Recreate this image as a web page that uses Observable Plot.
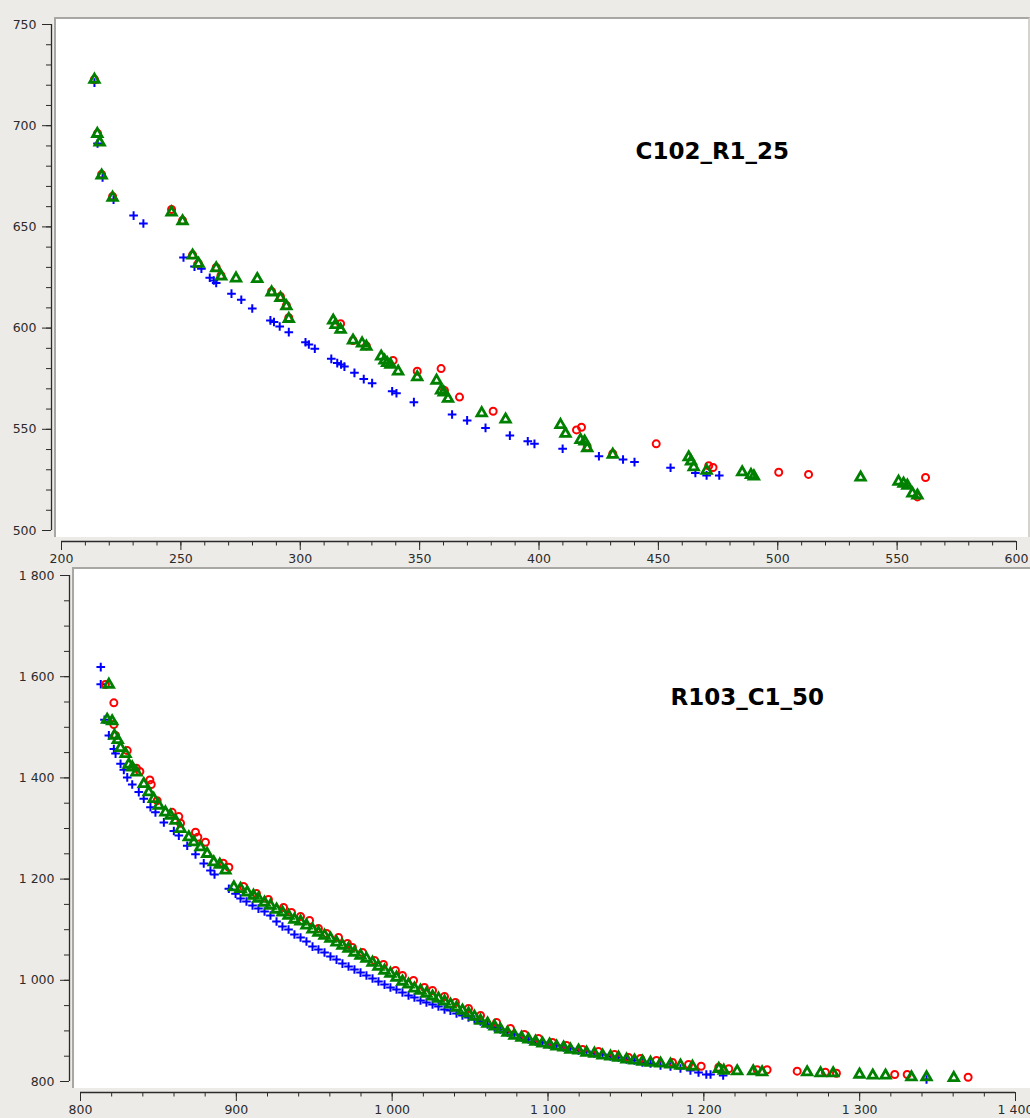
<!DOCTYPE html>
<html>
<head>
<meta charset="utf-8">
<script src="https://cdn.jsdelivr.net/npm/d3@7"></script>
<script src="https://cdn.jsdelivr.net/npm/@observablehq/plot@0.6"></script>
<style>
  html, body { margin: 0; padding: 0; background: #edebe7; }
  #page { position: relative; width: 1030px; height: 1118px; overflow: hidden; background: #edebe7; font-family: "DejaVu Sans", sans-serif; }
  .panel { position: absolute; background: #ffffff; box-sizing: border-box; border-top: 2px solid #a9a7a3; border-left: 2px solid #a9a7a3; border-right: 2px solid #d6d3ce; }
  .chart { position: absolute; left: 0; }
</style>
</head>
<body>
<div id="page">
  <div class="panel" style="left:54px; top:17px; width:976px; height:520px;"></div>
  <div class="panel" style="left:72px; top:567px; width:960px; height:521px; border-right:none;"></div>
  <div class="chart" id="top" style="top:0px;"></div>
  <div class="chart" id="bottom" style="top:566px;"></div>
</div>
<script>
// ---------- Panel 1: C102_R1_25 ----------
const title1 = "C102_R1_25";
const xTicks1 = [200, 250, 300, 350, 400, 450, 500, 550, 600];
const yTicks1 = [500, 550, 600, 650, 700, 750];

const blue1X = [213.8,215.1,217.2,221.8,230.2,234.3,251.1,255.7,258.6,262.1,263.8,264.8,271.2,275.3,279.9,287.5,289,291.4,295.2,302.2,303.6,306.1,313,315.5,317.1,318.5,322.7,326.6,330.1,338.5,340.3,347.6,363.6,369.9,377.6,387.8,395.3,398.1,409.9,425.1,435.2,440,455.1,465.5,470.2,475.5];
const blue1Y = [721.3,691.2,674.4,663.5,655.6,651.7,634.9,630.4,629.3,624.9,623.5,622.3,617,614,609.7,603.8,603,600.8,598,593,591.9,589.8,584.8,582.7,582,581,577.9,574.8,572.8,568.8,567.8,563.4,557.3,554.4,550.7,546.9,544.1,542.8,540.4,536.7,535.1,533.8,531,528.4,527.2,527.2];

const red1X = [213.8,215.1,216.8,221.4,246.1,250.7,254.9,257.3,264.8,266.8,288,291.7,294.2,295.2,316.9,322.1,327.7,338.9,349,359,360.4,366.7,380.8,415.7,417.8,420.2,430.9,449.1,471.1,472.9,500.4,512.9,561.9,558.5];
const red1Y = [722.8,696.2,675.9,665,658.6,653.2,636.2,631.9,630,626,618.1,615.6,611.2,605.1,602.2,593.9,591.2,584,578.7,580,569.2,565.9,558.9,549.7,551,541.2,537.9,542.8,532,531.1,528.8,527.7,526.2,516.6];

const green1X = [213.8,215,216,216.8,221.4,246.1,250.7,254.9,257.4,264.8,266.9,273.1,282,288,291.7,294.2,295.2,313.8,314.8,316.9,322.1,325.9,327.7,333.9,335.3,336.4,337.8,341,349,357.1,359,360.1,361.9,376,386,409,411.1,417.4,419.1,420.2,430.9,462.7,463.7,464.8,470.2,485.1,488.8,490,534.7,550.6,552.7,554.3,556.4,558.5];
const green1Y = [722.8,696,691.7,675.4,664.5,657.2,652.8,635.9,631.8,629.6,625.5,624.6,624.3,617.7,614.9,610.8,604.6,603.8,601.6,599.2,593.9,592.5,590.9,586,584,582.8,582,578.6,575.8,574.1,569.2,568.3,565.1,558,554.9,552.2,547.8,544.8,544,540.7,537.5,536.2,534.2,531.3,529.6,528.8,527.5,526.8,526.2,524.2,523.2,522.2,518.3,517.3];

// ---------- Panel 2: R103_C1_50 ----------
const title2 = "R103_C1_50";
const xTicks2 = [800, 900, 1000, 1100, 1200, 1300, 1400];
const yTicks2 = [800, 1000, 1200, 1400, 1600, 1800];

const blue2X = [813,813,815.4,818.2,821.4,822.5,825.7,827.8,830,833.2,837.4,840.6,844.9,848.1,853.5,859.9,863.1,868.5,873.8,879.1,883.4,886,895.2,899.5,
  902.7,906.5,910.4,914.2,918.1,921.9,925.8,929.6,933.5,937.3,941.2,945,948.9,952.7,956.6,960.4,964.3,968.1,972,975.8,979.7,983.5,987.4,991.2,995.1,998.9,1002.8,1006.6,1010.5,1014.3,1018.2,1022,1025.9,1029.7,1033.6,1037.4,1041.3,1045.1,1049,1052.8,1056.7,1061.2,1065.7,1069.5,1074,1078.5,1083,1087.5,1092,1096.5,1101,1105.5,1110,1114.4,1119.6,1124.7,1129.8,1135,1140.1,1145.2,1150.4,1155.5,1160.6,1165.8,1172.2,1178.6,1185,1191.4,1196.6,
  1201.6,1204.3,1212.4,1342.9];
const blue2Y = [1619,1585,1515,1484,1457,1448,1428,1416,1401,1387,1372,1359,1342,1332,1312,1295,1286,1266,1249,1231,1217,1209,1181,1171,
  1161.6,1155.7,1147.8,1141.8,1135.9,1128,1116.2,1106.3,1100.4,1090.5,1084.5,1076.6,1066.7,1060.8,1054.9,1047,1041,1033.1,1027.2,1021.3,1015.3,1009.4,1003.5,997.6,991.6,985.7,981.8,975.8,969.9,966,960.1,956.1,952.2,948.2,942.3,940.2,934.3,930.4,926.4,922.5,918.6,912.6,906.7,902.8,896.8,892.9,886.9,883,879,877.1,873.1,871.1,867.2,865.2,861.3,859.3,855.3,853.4,849.4,847.4,843.5,841.5,837.5,835.6,831.6,829.6,825.7,821.7,817.8,
  813.8,813.8,811.9,804];

const red2X = [816,821.4,821.4,822.5,830,835.9,838.1,844.5,845.4,849.2,858.8,863.1,864.2,873.8,875.3,880.2,891.6,895.2,
  904.6,912.9,920.6,930.3,935.4,941.2,947,952.7,957.9,965.6,971.3,974.5,981,988.7,994.4,1002.1,1006.6,1013.7,1020.7,1025.9,1033.6,1040.6,1049,1056.7,1067,1075.9,1084.9,1093.9,1102.9,1111.9,1122.2,1132.4,1142.7,1151.7,1159.4,1169.6,1179.9,1190.2,
  1198.3,1209.6,1216,1234.2,1240.6,1259.9,1278,1285.1,1322.5,1330.5,1369.6];
const red2Y = [1584.5,1548.3,1505.4,1483.7,1454,1419,1412.6,1396,1387,1355,1332,1323.6,1310.4,1292.6,1282.7,1272.9,1231.4,1223.5,
  1185.3,1171.5,1159.6,1143.8,1133.9,1126,1118.1,1102.3,1092.4,1084.5,1072.7,1064.8,1054.9,1039.1,1031.2,1019.3,1009.5,999.6,985.7,979.8,968,956.1,944.2,930.4,916.6,904.7,892.9,885,877.1,871.1,863.2,859.3,853.4,847.4,845.4,841.5,837.5,833.6,
  830.2,828.3,825.1,823.2,823.2,820.4,818.4,816.4,813.8,813.8,808.5];

const green2X = [818.2,817.1,820.3,821.8,823.9,825.7,828.9,831,833.2,835.9,840.6,843.8,847,850.2,854.5,857.8,861,864.2,869.5,872.7,877,881.3,885.5,889.4,893,898.4,902.7,907,
  911,914.2,918.1,921.9,925.8,929.6,933.5,937.3,941.2,945,948.9,952.7,956.6,960.4,964.3,968.1,972,975.8,979.7,983.5,987.4,991.2,995.1,998.9,1002.8,1006.6,1010.5,1014.3,1018.2,1022,1025.9,1029.7,1033.6,1037.4,1041.3,1045.1,1049,1052.8,1056.7,1061.2,1065.7,1069.5,1074,1078.5,1083,1087.5,1092,1096.5,1101,1105.5,1110,1114.4,1119.6,1124.7,1129.8,1135,1140.1,1145.2,1150.4,1155.5,1160.6,1165.8,1172.2,1178.6,1185,1192.7,
  1209.6,1212.8,1221.4,1231.7,1237.4,1266.3,1274.9,1283,1299.9,1308.4,1316.6,1333.2,1342.9,1360.4];
const green2Y = [1584.5,1515,1512,1483.7,1475,1459.4,1447.5,1426.4,1421,1411,1388,1371.7,1358.6,1345.4,1332,1325.6,1315.7,1299.3,1282.7,1272.9,1263,1250,1233.3,1228.8,1217,1184,1180.8,1174,
  1167.5,1161.6,1153.7,1147.8,1139.9,1134,1128,1120.1,1116.2,1108.3,1100.4,1094.4,1088.5,1082.6,1074.7,1068.7,1062.8,1054.9,1049,1043,1035.1,1027.2,1019.3,1013.4,1005.5,997.6,991.7,983.8,979.8,973.9,968,964,958.1,952.2,946.2,940.3,934.4,928.4,920.5,914.6,908.7,902.8,896.8,890.9,886.9,883,879,875.1,873.1,869.2,867.2,863.2,861.3,857.3,855.3,851.4,849.4,847.4,843.5,841.5,839.5,837.5,835.6,833.6,831.6,829.6,
  825.1,821.7,820.4,820.4,818.4,818.4,816.4,816.4,813.8,811.9,811.9,808.5,808.5,807.3];

const zip = (xs, ys) => xs.map((x, i) => ({x, y: ys[i]}));
const fmt = d => d >= 1000 ? `${Math.floor(d / 1000)} ${String(d % 1000).padStart(3, "0")}` : `${d}`;
const FONT = "DejaVu Sans";
const INK = "#2b2b2b";

function makePanel(cfg) {
  const {width, height, mL, mR, mT, mB, iL, iR, iB, xDom, yDom, xTicks, yTicks, xMinor, yMinor, blue, red, green, title, tdx, tdy} = cfg;
  return Plot.plot({
    width, height,
    marginLeft: mL, marginRight: mR, marginTop: mT, marginBottom: mB,
    style: {background: "transparent", fontFamily: FONT, fontSize: "12.5px", color: INK, overflow: "visible"},
    x: {domain: xDom, insetLeft: iL, insetRight: iR, label: null},
    y: {domain: yDom, insetBottom: iB, insetTop: 0, label: null},
    marks: [
      Plot.axisX({ticks: xMinor, tickSize: 4.5, text: null, stroke: INK, label: null}),
      Plot.axisX({ticks: xTicks, tickSize: 9, tickPadding: 4, tickFormat: fmt, stroke: INK, fill: INK, fontSize: 12.5, label: null}),
      Plot.axisY({ticks: yMinor, tickSize: 5, text: null, stroke: INK, label: null}),
      Plot.axisY({ticks: yTicks, tickSize: 9, tickPadding: 6, tickFormat: fmt, stroke: INK, fill: INK, fontSize: 12.5, label: null}),
      Plot.ruleX([xDom[0]], {y1: yDom[0], y2: yDom[1], dx: -iL, stroke: INK, strokeWidth: 1.3}),
      Plot.ruleY([yDom[0]], {x1: xDom[0], x2: xDom[1], dy: iB, stroke: INK, strokeWidth: 1.3}),
      Plot.dot(blue, {x: "x", y: "y", symbol: "plus", r: 2.9, stroke: "#0000ff", strokeWidth: 2}),
      Plot.dot(red, {x: "x", y: "y", symbol: "circle", r: 3.5, stroke: "#ff0000", strokeWidth: 2, fill: "none"}),
      Plot.dot(green, {x: "x", y: "y", symbol: "triangle", r: 3.5, stroke: "#008000", strokeWidth: 2.8, fill: "none"}),
      Plot.text([title], {frameAnchor: "top-left", dx: tdx, dy: tdy, text: d => d, textAnchor: "start", lineAnchor: "middle", fontSize: 23, fontWeight: "bold", fill: "#000000"})
    ]
  });
}

document.getElementById("top").appendChild(makePanel({
  width: 1030, height: 566, mL: 51, mR: 2, mT: 24, mB: 25, iL: 10, iR: 12, iB: 11,
  xDom: [200, 600], yDom: [500, 750],
  xTicks: xTicks1, yTicks: yTicks1,
  xMinor: d3.range(200, 601, 10), yMinor: d3.range(500, 751, 10),
  blue: zip(blue1X, blue1Y), red: zip(red1X, red1Y), green: zip(green1X, green1Y),
  title: title1, tdx: 584, tdy: 127
}));

document.getElementById("bottom").appendChild(makePanel({
  width: 1030, height: 552, mL: 69, mR: 0, mT: 9, mB: 26, iL: 11, iR: 15, iB: 11,
  xDom: [800, 1400], yDom: [800, 1800],
  xTicks: xTicks2, yTicks: yTicks2,
  xMinor: d3.range(800, 1401, 20), yMinor: d3.range(800, 1801, 50),
  blue: zip(blue2X, blue2Y), red: zip(red2X, red2Y), green: zip(green2X, green2Y),
  title: title2, tdx: 601, tdy: 122
}));
</script>
</body>
</html>
